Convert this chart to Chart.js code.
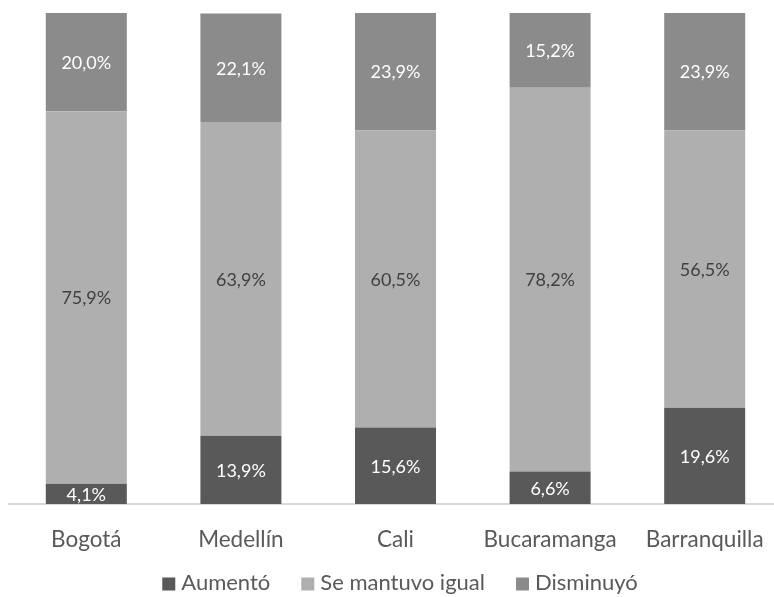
<!DOCTYPE html>
<html>
<head>
<meta charset="utf-8">
<script src="https://cdn.jsdelivr.net/npm/chart.js@4/dist/chart.umd.min.js"></script>
<style>
html,body{margin:0;padding:0;background:#fff;overflow:hidden;}
#wrap{position:relative;width:800px;height:597px;}
</style>
</head>
<body>
<div id="wrap"><canvas id="c"></canvas></div>
<script>
const categories = ['Bogotá', 'Medellín', 'Cali', 'Bucaramanga', 'Barranquilla'];
const aumento = [4.1, 13.9, 15.6, 6.6, 19.6];
const seMantuvo = [75.9, 63.9, 60.5, 78.2, 56.5];
const disminuyo = [20.0, 22.1, 23.9, 15.2, 23.9];
const seriesNames = ['Aumentó', 'Se mantuvo igual', 'Disminuyó'];

const FONT = "Lato, 'Open Sans', sans-serif";

const labelPlugin = {
  id: 'segLabels',
  afterDatasetsDraw(chart) {
    const ctx = chart.ctx;
    ctx.save();
    ctx.font = '18px ' + FONT;
    ctx.textAlign = 'center';
    ctx.textBaseline = 'middle';
    chart.data.datasets.forEach((ds, di) => {
      const meta = chart.getDatasetMeta(di);
      meta.data.forEach((el, i) => {
        const v = ds.data[i];
        const y = (el.y + el.base) / 2;
        ctx.fillStyle = ds.labelColor;
        ctx.fillText(v.toFixed(1).replace('.', ',') + '%', el.x, y + 1);
      });
    });
    ctx.restore();
  }
};

const legendPlugin = {
  id: 'bottomLegend',
  afterDraw(chart) {
    const ctx = chart.ctx;
    ctx.save();
    ctx.font = '22px ' + FONT;
    ctx.textBaseline = 'middle';
    ctx.textAlign = 'left';
    const box = 13, gap = 6, itemGap = 31;
    const items = chart.data.datasets.map(ds => ({text: ds.label, color: ds.backgroundColor, w: ctx.measureText(ds.label).width}));
    const total = items.reduce((s, it) => s + box + gap + it.w, 0) + itemGap * (items.length - 1);
    let x = 400 - total / 2;
    const y = 583;
    items.forEach(it => {
      ctx.fillStyle = it.color;
      ctx.fillRect(x, y - box / 2 + 1, box, box);
      ctx.fillStyle = '#595959';
      ctx.fillText(it.text, x + box + gap, y);
      x += box + gap + it.w + itemGap;
    });
    ctx.restore();
  }
};

new Chart(document.getElementById('c'), {
  type: 'bar',
  data: {
    labels: categories,
    datasets: [
      {label: seriesNames[0], data: aumento, backgroundColor: '#595959', labelColor: '#ffffff'},
      {label: seriesNames[1], data: seMantuvo, backgroundColor: '#afafaf', labelColor: '#404040'},
      {label: seriesNames[2], data: disminuyo, backgroundColor: '#8b8b8b', labelColor: '#ffffff'}
    ]
  },
  options: {
    responsive: true,
    maintainAspectRatio: false,
    animation: false,
    layout: {padding: {left: 9, top: 13, right: 18, bottom: 22}},
    datasets: {bar: {categoryPercentage: 1, barPercentage: 0.524}},
    scales: {
      x: {
        stacked: true,
        grid: {display: false, drawTicks: false},
        border: {display: true, color: '#d9d9d9', width: 2},
        ticks: {color: '#595959', font: {family: FONT, size: 22.5}, padding: 22}
      },
      y: {
        stacked: true,
        display: false,
        min: 0,
        max: 100
      }
    },
    plugins: {
      legend: {display: false},
      tooltip: {enabled: false}
    }
  },
  plugins: [labelPlugin, legendPlugin]
});
</script>
</body>
</html>
